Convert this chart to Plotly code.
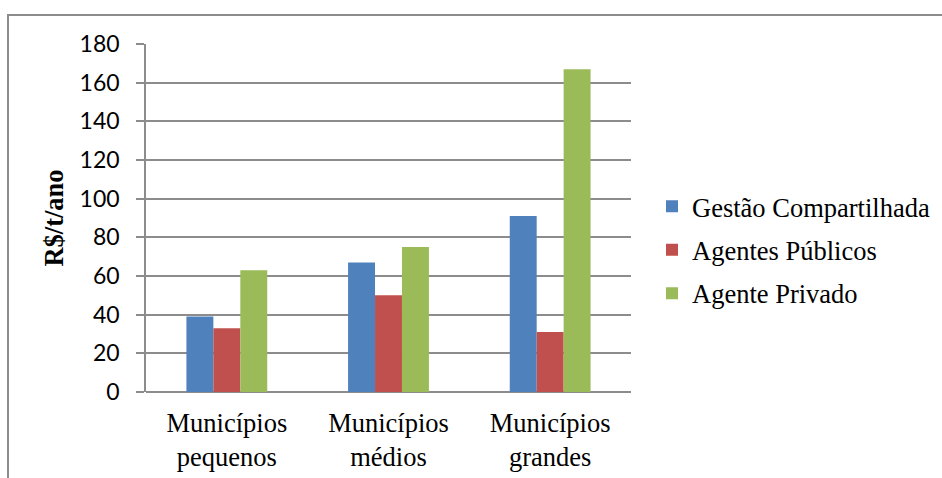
import plotly.graph_objects as go

# Custo de coleta por porte de município
categorias = ["Municípios<br>pequenos", "Municípios<br>médios", "Municípios<br>grandes"]
gestao_compartilhada = [39, 67, 91]
agentes_publicos = [33, 50, 31]
agente_privado = [63, 75, 167]

series = [
    ("Gestão Compartilhada", gestao_compartilhada, "#4F81BD"),
    ("Agentes Públicos", agentes_publicos, "#C0504D"),
    ("Agente Privado", agente_privado, "#9BBB59"),
]

SERIF = "Liberation Serif, Times New Roman, serif"
W, H = 942, 478
ML, MR, MT, MB = 146, 311, 44, 86

fig = go.Figure()
for i, (nome, valores, cor) in enumerate(series):
    fig.add_trace(go.Bar(
        name=nome, x=categorias, y=valores,
        marker=dict(color=cor, line=dict(width=0)),
        legendgroup=f"g{i}",
    ))

# moldura do gráfico (bordas superior e esquerda)
pw, ph = W - ML - MR, H - MT - MB
x0 = (8 - ML) / pw
y0 = (H - MB - 15) / ph
y1 = (H - MB - H) / ph
x1 = (W - ML) / pw
fig.add_shape(type="path", xref="paper", yref="paper",
              path=f"M {x0} {y1} L {x0} {y0} L {x1} {y0}",
              line=dict(color="#8C8C8C", width=2), layer="below")

fig.update_layout(
    width=W, height=H,
    margin=dict(l=ML, r=MR, t=MT, b=MB, autoexpand=False),
    paper_bgcolor="white", plot_bgcolor="white",
    barmode="group", bargap=0.5, bargroupgap=0,
    font=dict(family=SERIF, color="black", size=26),
    legend=dict(
        x=652 / W, y=(H - MB - 250) / ph, xref="container", yref="paper",
        xanchor="left", yanchor="middle",
        font=dict(family=SERIF, size=26.5, color="black"),
        tracegroupgap=6, traceorder="grouped",
        bgcolor="rgba(0,0,0,0)",
    ),
    xaxis=dict(
        showgrid=False, showline=False, ticks="",
        tickfont=dict(family=SERIF, size=26.5, color="black"),
        ticklabelstandoff=12,
    ),
    yaxis=dict(
        range=[0, 180], dtick=20, tick0=0,
        showgrid=True, gridcolor="#8C8C8C", gridwidth=1.5,
        zeroline=True, zerolinecolor="#8C8C8C", zerolinewidth=1.5,
        showline=True, linecolor="#8C8C8C", linewidth=1.5,
        ticks="outside", ticklen=8, tickcolor="#8C8C8C", tickwidth=1.5,
        tickfont=dict(family="Lato", size=23, color="black"),
        ticklabelstandoff=12,
        title=dict(text="<b>R$/t/ano</b>", standoff=8,
                   font=dict(family=SERIF, size=26.5, color="black")),
    ),
)

fig.write_html("out.html")
